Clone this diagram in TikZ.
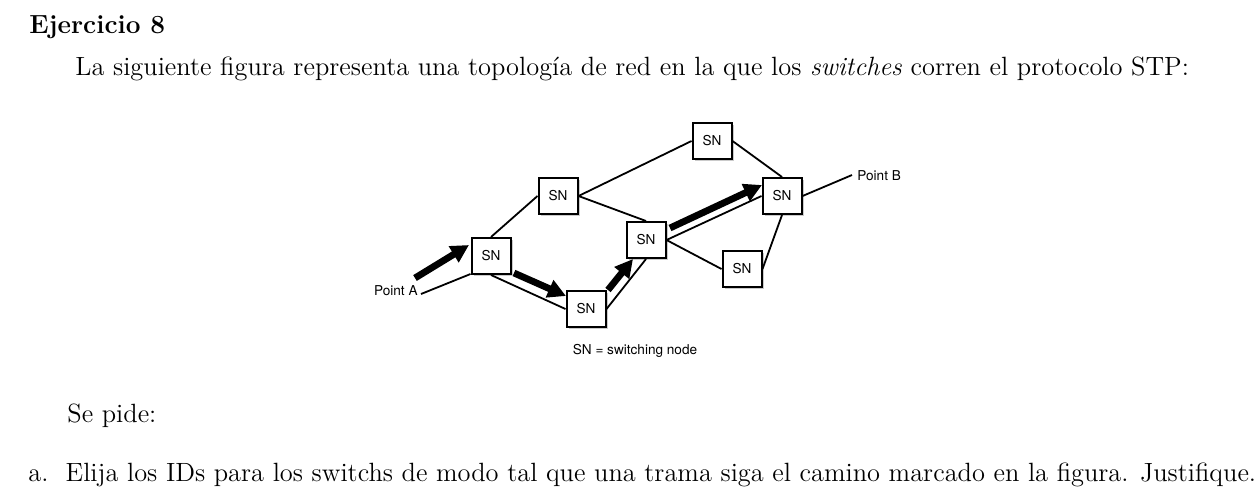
\documentclass[tikz,border=0pt]{standalone}
\usepackage{fontspec}
\newfontfamily\hv{TeX Gyre Heros}
\usetikzlibrary{arrows.meta,shadows}
\begin{document}
\begin{tikzpicture}[x=0.5pt,y=-0.5pt,
  sn/.style={draw,line width=1pt,fill=white,minimum width=19.5pt,minimum height=18pt,inner sep=0pt,
    font=\hv\fontsize{6.8}{8}\selectfont,
    drop shadow={shadow xshift=1pt,shadow yshift=-1pt,fill=black!35,opacity=0.6}},
  link/.style={line width=0.9pt},
  flow/.style={line width=3.4pt,-{Triangle[length=9pt,width=9pt]}},
  lbl/.style={font=\hv\fontsize{6.8}{8}\selectfont,inner sep=0pt},
  txt/.style={anchor=base west,inner sep=0pt,font=\fontsize{13.2}{15}\selectfont}]
\useasboundingbox (0,0) rectangle (1256,494);
\node[txt,font=\fontsize{13.1}{15}\selectfont\bfseries] (h) at (29,33) {Ejercicio 8};
\node[txt] (t1) at (75,75) {La siguiente figura representa una topología de red en la que los \emph{switches} corren el protocolo STP:};
\node[txt] (t2) at (67,422) {Se pide:};
\node[txt] (t3) at (28,481) {a.\ \ Elija los IDs para los switchs de modo tal que una trama siga el camino marcado en la figura. Justifique.};
% nodes
\node[sn] (N1) at (491,256) {SN};
\node[sn] (N2) at (558,196) {SN};
\node[sn] (N3) at (586,309) {SN};
\node[sn] (N4) at (646,240) {SN};
\node[sn] (N5) at (712,141) {SN};
\node[sn] (N6) at (782,196) {SN};
\node[sn] (N7) at (742,269) {SN};
\node[lbl,anchor=east] (PA) at (418,291) {Point A};
\node[lbl,anchor=west] (PB) at (857,176) {Point B};
\node[lbl] (leg) at (635,351) {SN = switching node};
\coordinate (a0) at (421,294);
\coordinate (b0) at (852,175);
% links
\draw[link] (a0) -- ([yshift=0.5pt]N1.south west);
\draw[link] (N1.north) -- (N2.west);
\draw[link] (N2.east) -- (N5.west);
\draw[link] (N2.east) -- (N4.north);
\draw[link] (N1.south) -- (N3.west);
\draw[link] (N3.east) -- (N4.south);
\draw[link] (N4.east) -- (N6.west);
\draw[link] (N4.east) -- (N7.west);
\draw[link] (N5.east) -- (N6.north);
\draw[link] (N7.east) -- (N6.south);
\draw[link] (N6.east) -- (b0);
% flow arrows
\coordinate (f1s) at (415,278); \coordinate (f1e) at (469,245);
\coordinate (f2s) at (514,273); \coordinate (f2e) at (566,296);
\coordinate (f3s) at (608,290); \coordinate (f3e) at (633,259);
\coordinate (f4s) at (670,228); \coordinate (f4e) at (762,185);
\draw[flow] (f1s) -- (f1e);
\draw[flow] (f2s) -- (f2e);
\draw[flow] (f3s) -- (f3e);
\draw[flow] (f4s) -- (f4e);
\end{tikzpicture}
\end{document}
